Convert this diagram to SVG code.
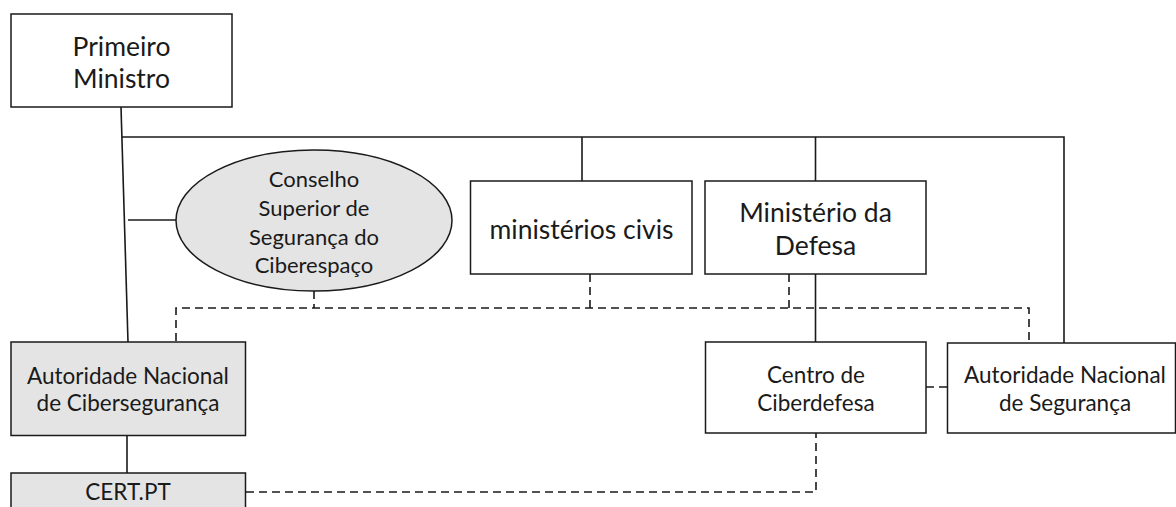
<svg xmlns="http://www.w3.org/2000/svg" width="1176" height="507" viewBox="0 0 1176 507">
<style>
.box{fill:#ffffff;stroke:#1a1a1a;stroke-width:1.5}
.gray{fill:#e4e4e4;stroke:#1a1a1a;stroke-width:1.5}
.ln{fill:none;stroke:#1a1a1a;stroke-width:1.6}
.dl{fill:none;stroke:#1a1a1a;stroke-width:1.6;stroke-dasharray:8 5}
text{font-family:Lato,"Liberation Sans",sans-serif;fill:#1a1a1a;text-anchor:middle}
.big{font-size:26.5px}
.mid{font-size:22.5px}
.ell{font-size:22px}
</style>
<rect width="1176" height="507" fill="#ffffff"/>
<g id="connectors">
<path class="ln" d="M121,107 L128,342"/>
<path class="ln" d="M122,137 H1064 V343"/>
<path class="ln" d="M128,220 H176"/>
<path class="ln" d="M582,137 V181"/>
<path class="ln" d="M815.5,137 V181"/>
<path class="ln" d="M815.5,274 V342"/>
<path class="ln" d="M127,436 V473"/>
<path class="dl" d="M176,341 V308 H1029 V343"/>
<path class="dl" d="M314,291 V308"/>
<path class="dl" d="M590,274 V308"/>
<path class="dl" d="M789,274 V308"/>
<path class="dl" d="M926,387 H948"/>
<path class="dl" d="M246,492 H816 V433"/>
</g>
<g id="primeiro-ministro">
<rect class="box" x="11" y="14" width="221" height="93"/>
<text class="big" x="121.5" y="56">Primeiro</text>
<text class="big" x="121.5" y="88">Ministro</text>
</g>
<g id="conselho">
<ellipse class="gray" cx="314" cy="220.5" rx="138" ry="70.5"/>
<text class="ell" x="314" y="187">Conselho</text>
<text class="ell" x="314" y="216">Superior de</text>
<text class="ell" x="314" y="244.5">Segurança do</text>
<text class="ell" x="314" y="273">Ciberespaço</text>
</g>
<g id="ministerios-civis">
<rect class="box" x="470.5" y="181" width="221.5" height="93"/>
<text class="big" x="581.5" y="239">ministérios civis</text>
</g>
<g id="ministerio-defesa">
<rect class="box" x="705" y="181" width="221" height="93"/>
<text class="big" x="815.5" y="222">Ministério da</text>
<text class="big" x="815.5" y="255">Defesa</text>
</g>
<g id="autoridade-ciberseguranca">
<rect class="gray" x="11" y="342" width="234.5" height="93.5"/>
<text class="mid" x="128" y="384">Autoridade Nacional</text>
<text class="mid" x="128" y="411">de Cibersegurança</text>
</g>
<g id="cert-pt">
<rect class="gray" x="11" y="473" width="234.5" height="40"/>
<text class="mid" x="128" y="500">CERT.PT</text>
</g>
<g id="centro-ciberdefesa">
<rect class="box" x="705.5" y="342" width="220.5" height="91"/>
<text class="mid" x="816" y="383">Centro de</text>
<text class="mid" x="816" y="411">Ciberdefesa</text>
</g>
<g id="autoridade-seguranca">
<rect class="box" x="947.5" y="343" width="228" height="90"/>
<text class="mid" x="1065" y="383">Autoridade Nacional</text>
<text class="mid" x="1065" y="411">de Segurança</text>
</g>
</svg>
